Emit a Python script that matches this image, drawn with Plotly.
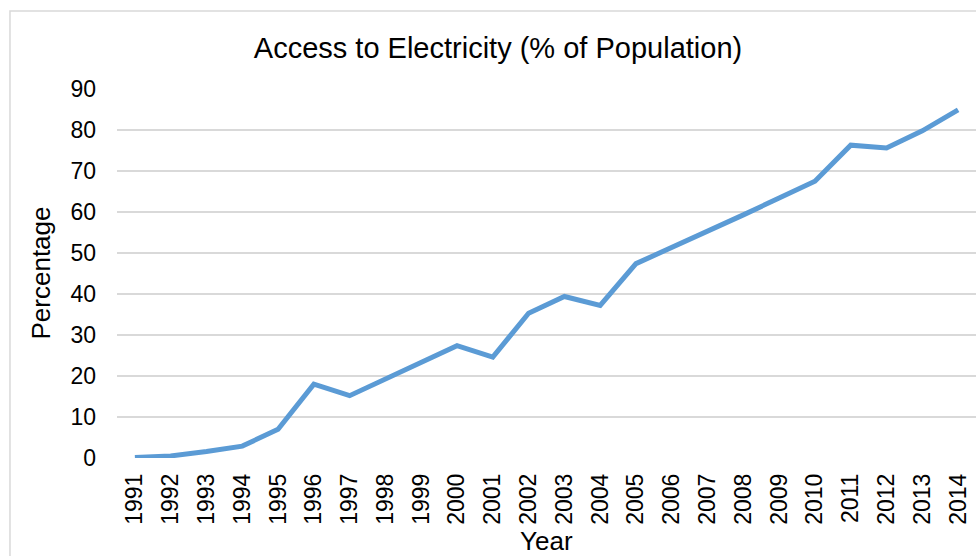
import plotly.graph_objects as go

years = [str(y) for y in range(1991, 2015)]
access_pct = [0.1, 0.5, 1.6, 2.9, 7.0, 18.0, 15.2, 19.3, 23.3, 27.4, 24.6, 35.3,
              39.4, 37.2, 47.4, 51.3, 55.3, 59.3, 63.4, 67.5, 76.3, 75.6, 79.8, 84.9]
y_ticks = list(range(0, 100, 10))

FONT = "Liberation Sans, Arial, sans-serif"

fig = go.Figure()
fig.add_trace(go.Scatter(
    x=years, y=access_pct, mode="lines",
    line=dict(color="#5B9BD5", width=5),
    showlegend=False,
))

# chart-area border (only the left and top edges are in frame)
fig.add_shape(type="path", xref="paper", yref="paper",
              path="M -0.1246 -0.3 L -0.1246 1.2114 L 1.05 1.2114",
              line=dict(color="#d9d9d9", width=1.5))

fig.update_layout(
    width=976, height=556,
    margin=dict(l=117, r=0, t=89, b=98),
    paper_bgcolor="white", plot_bgcolor="white",
    font=dict(family=FONT, color="black"),
    title=dict(text="Access to Electricity (% of Population)",
               x=498 / 976, xanchor="center", y=1 - 48 / 556, yanchor="middle",
               font=dict(size=29, family=FONT, color="black")),
    annotations=[
        dict(text="Percentage", xref="paper", yref="paper",
             x=(40 - 117) / 859, y=0.5, textangle=-90, showarrow=False,
             xanchor="center", yanchor="middle", font=dict(size=26)),
        dict(text="Year", xref="paper", yref="paper",
             x=0.5, y=(458 - 541) / 369, showarrow=False,
             xanchor="center", yanchor="middle", font=dict(size=26)),
    ],
)

fig.update_xaxes(type="category", range=[-0.5, 23.5], tickangle=-90,
                 showgrid=False, showline=False, zeroline=False,
                 ticks="", ticklabelstandoff=10,
                 tickfont=dict(size=23, family=FONT, color="black"))
fig.update_yaxes(range=[0, 90], tickvals=y_ticks,
                 showgrid=True, gridcolor="#d9d9d9", gridwidth=1.5,
                 zeroline=False, showline=False, ticks="",
                 ticklabelstandoff=20,
                 tickfont=dict(size=23, family=FONT, color="black"))

fig.write_html("out.html", config={"displayModeBar": False},
               post_script="document.body.style.margin='0';")
